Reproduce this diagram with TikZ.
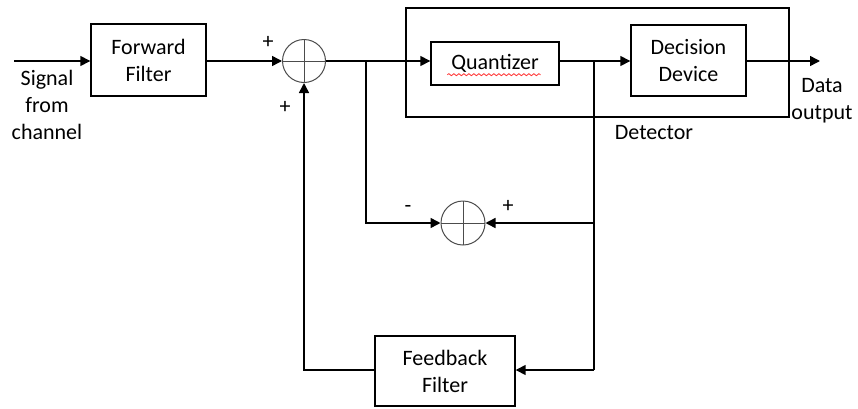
\documentclass[tikz,border=0pt]{standalone}
\usepackage{fontspec}
\setmainfont{Carlito}
\usepackage{tikz}
\usetikzlibrary{
  arrows.meta,
  positioning,
  calc,
  decorations.pathmorphing
}

\begin{document}
\begin{tikzpicture}[
    x=0.5pt, y=-0.5pt,
    every node/.style={font=\fontsize{11}{13.5}\selectfont},
    blk/.style={draw, line width=0.7pt, align=center, inner sep=0pt},
    sum/.style={circle, draw=black!70, line width=0.5pt, minimum size=21.5pt, inner sep=0pt,
      path picture={\draw[black!70, line width=0.5pt]
        (path picture bounding box.north) -- (path picture bounding box.south)
        (path picture bounding box.west) -- (path picture bounding box.east);}},
    sig/.style={-{Triangle[length=5pt,width=5pt]}, line width=0.75pt},
    wire/.style={line width=0.75pt},
    lbl/.style={inner sep=1pt, align=center}
  ]
    \useasboundingbox (0,0) rectangle (858,408);
    % detector frame
    \node[blk, minimum width=191.5pt, minimum height=54.5pt] (det) at (597.5,62.5) {};
    \node[lbl] (detl) at (654,133) {Detector};
    % blocks
    \node[blk, minimum width=57.5pt, minimum height=36pt] (ff) at (148.5,60) {Forward\\Filter};
    \node[sum] (s1) at (304,61) {};
    \node[blk, minimum width=64pt, minimum height=21.5pt] (q) at (495,63.5) {Quantizer};
    \node[blk, minimum width=57.5pt, minimum height=35.5pt] (dd) at (688.5,60.5) {Decision\\Device};
    \node[sum, minimum size=22pt] (s2) at (463,223) {};
    \node[blk, minimum width=70pt, minimum height=35pt] (fb) at (445,371) {Feedback\\Filter};
    \draw[red!80, line width=0.4pt, decorate,
      decoration={snake, amplitude=0.5pt, segment length=2.5pt}]
      ($(q.south west)+(17,-11)$) -- ($(q.south east)+(-19,-11)$);
    % ends and branch points
    \coordinate (in) at (14,61);
    \coordinate (out) at (820,61);
    \coordinate (b1) at (366,61);
    \coordinate (b2) at (594,61);
    \coordinate (b3) at (594,370);
    % texts
    \node[lbl] (src) at (47,105) {Signal\\from\\channel};
    \node[lbl] (dout) at (822,101) {Data\\output};
    \node[lbl] (p1) at (268,42) {+};
    \node[lbl] (p2) at (285,107) {+};
    \node[lbl] (m3) at (408,209) {-};
    \node[lbl] (p4) at (508,206) {+};
    % signal path
    \draw[sig] (in) -- (ff.west |- in);
    \draw[sig] (ff.east |- in) -- (s1.west);
    \draw[sig] (s1.east) -- (q.west |- s1);
    \draw[sig] (q.east |- b2) -- (dd.west |- b2);
    \draw[sig] (dd.east |- out) -- (out);
    % error and feedback
    \draw[sig] (b1) |- (s2.west);
    \draw[sig] (b2) |- (s2.east);
    \draw[wire] (b2) -- (b3);
    \draw[sig] (b3) -- (fb.east |- b3);
    \draw[sig] (fb.west |- b3) -| (s1.south);
\end{tikzpicture}
\end{document}
